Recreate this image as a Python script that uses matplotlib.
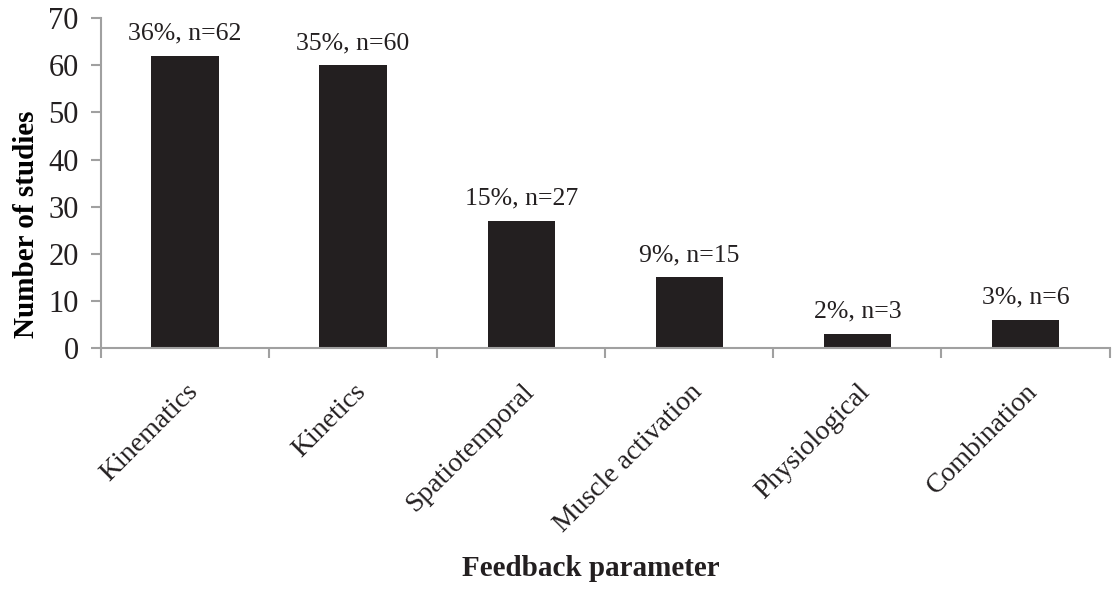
import matplotlib.pyplot as plt
import matplotlib.transforms as mtransforms

categories = ["Kinematics", "Kinetics", "Spatiotemporal", "Muscle activation",
              "Physiological", "Combination"]
counts = [62, 60, 27, 15, 3, 6]
percents = [36, 35, 15, 9, 2, 3]

plt.rcParams['font.family'] = ['Liberation Serif', 'DejaVu Serif']

fig = plt.figure(figsize=(11.12, 5.92), dpi=100)
ax = fig.add_axes([0.0908, 0.412, 0.907, 0.5575])

x = list(range(len(categories)))
ax.bar(x, counts, width=0.4, color="#231f20")

for xi, c, p in zip(x, counts, percents):
    ax.annotate(f"{p}%, n={c}", (xi, c), xytext=(0, 8), textcoords="offset points",
                ha="center", va="bottom", fontsize=18.5, color="#231f20")

ax.set_xlim(-0.5, len(categories) - 0.5)
ax.set_ylim(0, 70)
ax.set_yticks(range(0, 71, 10))
ax.tick_params(axis='y', labelsize=22, length=7, color="#a0a0a0", width=1.5,
               labelcolor="#231f20", pad=9)

# tick marks between categories, labels at centres
ax.set_xticks([i - 0.5 for i in range(len(categories) + 1)])
ax.set_xticklabels([])
ax.tick_params(axis='x', length=7, color="#a0a0a0", width=1.5)
offset = mtransforms.ScaledTranslation(0.0, -0.31, fig.dpi_scale_trans)
for xi, name in zip(x, categories):
    ax.text(xi, 0, name, transform=ax.get_xaxis_transform() + offset,
            rotation=45, ha="right", va="top", rotation_mode="anchor",
            fontsize=20, color="#231f20")

for side in ["top", "right"]:
    ax.spines[side].set_visible(False)
for side in ["left", "bottom"]:
    ax.spines[side].set_color("#a0a0a0")
    ax.spines[side].set_linewidth(1.5)

ax.set_ylabel("Number of studies", fontsize=21, fontweight="bold")
ax.yaxis.set_label_coords(-0.06, 0.376)
fig.text(0.531, 0.04, "Feedback parameter", ha="center", va="center",
         fontsize=21, fontweight="bold", color="#231f20")

fig.savefig("out.png", dpi=100)
